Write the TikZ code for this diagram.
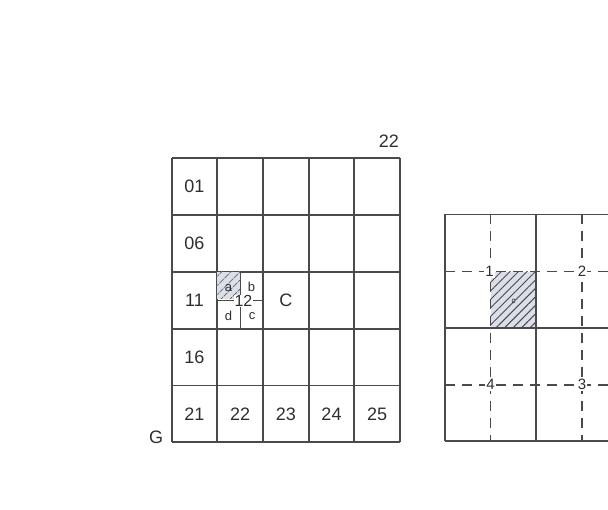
\documentclass[tikz,border=0pt]{standalone}
\usepackage{fontspec}
\setmainfont{Liberation Sans}
\usepackage{xcolor}
\usetikzlibrary{
    patterns.meta
}
\definecolor{gridgray}{HTML}{4A4A4A}
\definecolor{inkgray}{HTML}{2E2E2E}
\definecolor{hatchbg}{HTML}{DCDFE9}

\begin{document}
\begin{tikzpicture}[
        x=1pt,
        y=-1pt,
        gridline/.style={
            draw=gridgray,
            line width=1.8pt
        },
        subline/.style={
            draw=gridgray,
            line width=1.4pt
        },
        dashline/.style={
            draw=gridgray,
            line width=1.6pt,
            dash pattern=on 10pt off 7pt
        },
        hatched/.style={
            preaction={fill=hatchbg},
            pattern={Lines[angle=45, distance=#1, line width=1pt]},
            pattern color=gridgray
        },
        cellnum/.style={
            text=inkgray,
            inner sep=1pt,
            font=\fontsize{18}{20}\selectfont
        },
        subnum/.style={
            text=inkgray,
            inner sep=0.5pt,
            font=\fontsize{13}{15}\selectfont
        },
        quadnum/.style={
            text=inkgray,
            fill=white,
            inner sep=1pt,
            font=\fontsize{15}{17}\selectfont
        }
    ]

    \useasboundingbox (0,0) rectangle (608,510);
    \clip (0,0) rectangle (608,510);

    % left sheet 22
    \foreach \gx in {171.7,217.36,263.02,308.68,354.34,400}
        \draw[gridline] (\gx,158.3) -- (\gx,442.3);
    \foreach \gy in {158.3,215.1,271.9,328.7,385.5,442.3}
        \draw[gridline] (171.7,\gy) -- (400,\gy);

    \fill[hatched=6.5pt] (217.36,271.9) rectangle (240.2,299);
    \draw[subline] (240.2,271.9) -- (240.2,328.7);
    \draw[subline] (217.36,300.3) -- (263.02,300.3);

    \node[subnum, fill=white, font=\fontsize{16}{18}\selectfont] (c12) at (243.5,301) {12};
    \node[subnum] (qa) at (228.5,288) {a};
    \node[subnum] (qb) at (251.5,287) {b};
    \node[subnum] (qc) at (252,316) {c};
    \node[subnum] (qd) at (228.5,315.5) {d};

    \node[cellnum] (c01) at (194.5,186.7) {01};
    \node[cellnum] (c06) at (194.5,243.5) {06};
    \node[cellnum] (c11) at (194.5,300.3) {11};
    \node[cellnum] (c16) at (194.5,357.1) {16};
    \node[cellnum] (c21) at (194.5,413.9) {21};
    \node[cellnum] (c22) at (240.2,413.9) {22};
    \node[cellnum] (c23) at (285.85,413.9) {23};
    \node[cellnum] (c24) at (331.5,413.9) {24};
    \node[cellnum] (c25) at (377.2,413.9) {25};
    \node[cellnum] (cC) at (285.85,300.3) {C};

    \node[cellnum, anchor=south east] (sheet) at (400,149) {22};
    \node[cellnum] (origin) at (156,437) {G};

    % right sheet, enlarged
    \fill[hatched=6pt] (490.65,271.6) rectangle (536.3,328);

    \draw[dashline] (490.65,214.5) -- (490.65,441);
    \draw[dashline] (581.95,214.5) -- (581.95,441);
    \draw[dashline] (445,271.6) -- (620,271.6);
    \draw[dashline] (445,384.8) -- (620,384.8);

    \draw[gridline] (445,214.5) -- (445,441);
    \draw[gridline] (536.3,214.5) -- (536.3,441);
    \draw[gridline] (627.6,214.5) -- (627.6,441);
    \draw[gridline] (445,214.5) -- (620,214.5);
    \draw[gridline] (445,328) -- (620,328);
    \draw[gridline] (445,441) -- (620,441);

    \node[quadnum] (q1) at (489.5,271.6) {1};
    \node[quadnum] (q2) at (581.95,271.6) {2};
    \node[quadnum] (q3) at (581.95,384.8) {3};
    \node[quadnum] (q4) at (490.65,384.8) {4};
    \node[subnum, font=\fontsize{8}{9}\selectfont] (qsel) at (513.5,301) {c};

\end{tikzpicture}
\end{document}
